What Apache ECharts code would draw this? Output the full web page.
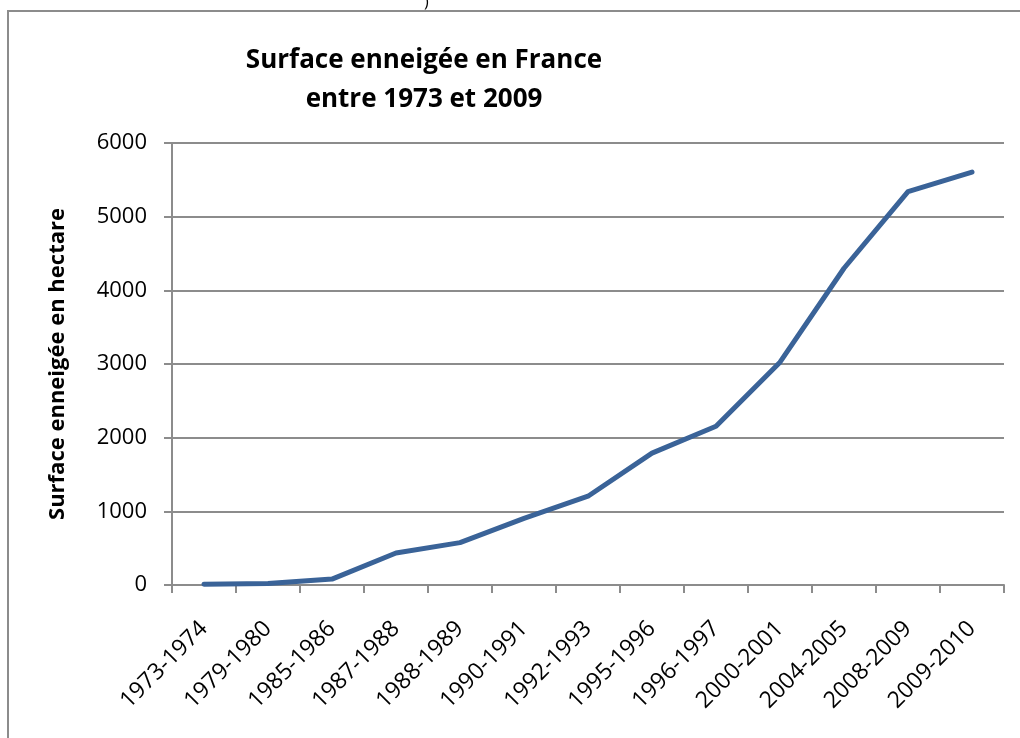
<!DOCTYPE html>
<html>
<head>
<meta charset="utf-8">
<script src="https://cdn.jsdelivr.net/npm/echarts@6/dist/echarts.min.js"></script>
<style>
  html, body { margin: 0; padding: 0; background: #fff; }
  #chart { width: 1020px; height: 738px; }
</style>
</head>
<body>
<div id="chart"></div>
<script>
const periods = ['1973-1974', '1979-1980', '1985-1986', '1987-1988', '1988-1989', '1990-1991', '1992-1993',
  '1995-1996', '1996-1997', '2000-2001', '2004-2005', '2008-2009', '2009-2010']
const surface = [10, 20, 80, 435, 575, 905, 1205, 1790, 2155, 3025, 4300, 5340, 5605]
const yTicks = [0, 1000, 2000, 3000, 4000, 5000, 6000]

const FONT = 'Open Sans'
const chart = echarts.init(document.getElementById('chart'), null, { renderer: 'canvas' })

const option = {
  backgroundColor: '#fff',
  animation: false,
  title: {
    text: 'Surface enneigée en France\nentre 1973 et 2009',
    left: 419,
    top: 36,
    textAlign: 'center',
    textStyle: {
      fontFamily: FONT,
      fontWeight: 'bold',
      fontSize: 26,
      lineHeight: 39,
      color: '#000'
    }
  },
  graphic: [
    {
      type: 'rect',
      shape: { x: 8, y: 11, width: 1100, height: 1000 },
      style: { fill: null, stroke: '#8c8c8c', lineWidth: 2 },
      silent: true
    },
    {
      type: 'text',
      left: 424,
      top: -6,
      style: { text: ')', fontFamily: FONT, fontSize: 16, fill: '#000' }
    }
  ],
  grid: {
    left: 172,
    top: 143,
    right: 16,
    bottom: 153
  },
  xAxis: {
    type: 'category',
    data: periods,
    boundaryGap: true,
    axisLine: { lineStyle: { color: '#8c8c8c', width: 2 } },
    axisTick: { show: true, length: 8, inside: false, lineStyle: { color: '#8c8c8c', width: 2 } },
    axisLabel: {
      rotate: 45,
      margin: 40,
      interval: 0,
      fontFamily: FONT,
      fontSize: 23,
      color: '#000'
    }
  },
  yAxis: {
    type: 'value',
    min: yTicks[0],
    max: yTicks[yTicks.length - 1],
    interval: 1000,
    name: 'Surface enneigée en hectare',
    nameLocation: 'middle',
    nameGap: 103,
    nameRotate: 90,
    nameTextStyle: {
      fontFamily: FONT,
      fontWeight: 'bold',
      fontSize: 22,
      color: '#000'
    },
    axisLine: { show: true, lineStyle: { color: '#8c8c8c', width: 2 } },
    axisTick: { show: true, length: 8, lineStyle: { color: '#8c8c8c', width: 2 } },
    axisLabel: {
      margin: 25,
      fontFamily: FONT,
      fontSize: 22,
      color: '#000',
      formatter: v => String(v)
    },
    splitLine: { lineStyle: { color: '#8c8c8c', width: 2 } }
  },
  series: [
    {
      type: 'line',
      data: surface,
      showSymbol: false,
      smooth: false,
      lineStyle: { color: '#3a6398', width: 5, cap: 'round', join: 'round' },
      itemStyle: { color: '#3a6398' }
    }
  ]
}

chart.setOption(option)
</script>
</body>
</html>
